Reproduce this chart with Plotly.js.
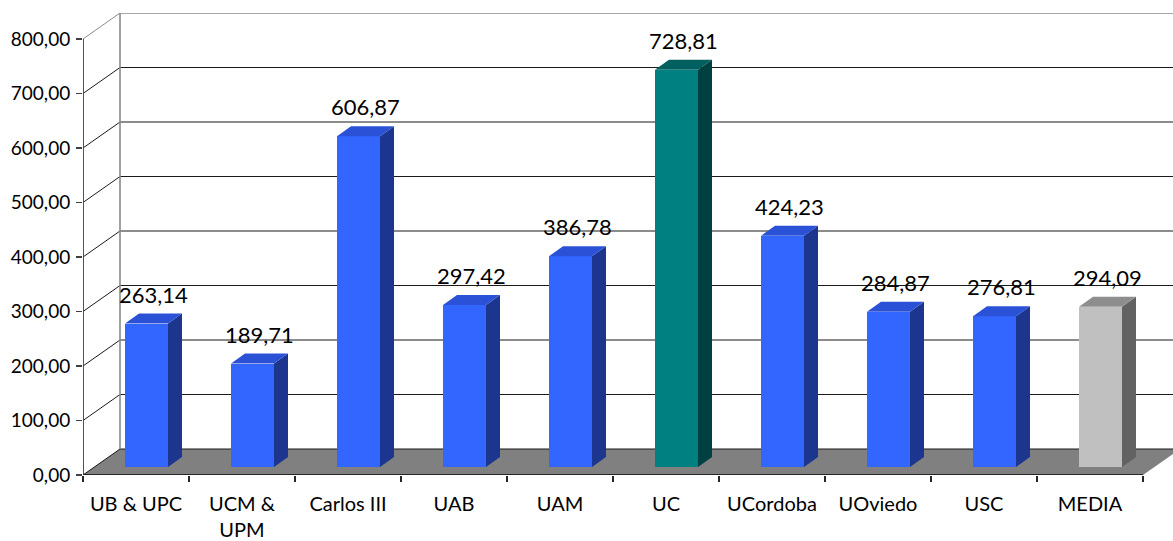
<!DOCTYPE html>
<html><head><meta charset="utf-8">
<script src="https://cdn.plot.ly/plotly-3.0.1.min.js"></script>
<style>html,body{margin:0;padding:0;background:#fff}#chart{width:1173px;height:541px}</style>
</head><body><div id="chart"></div>
<script>
// ---- data ----
const categories = ["UB & UPC","UCM &<br>UPM","Carlos III","UAB","UAM","UC","UCordoba","UOviedo","USC","MEDIA"];
const values = [263.14,189.71,606.87,297.42,386.78,728.81,424.23,284.87,276.81,294.09];
const yTickValues = [0,100,200,300,400,500,600,700,800];
const frontColors = ["#3366FF","#3366FF","#3366FF","#3366FF","#3366FF","#008080","#3366FF","#3366FF","#3366FF","#C0C0C0"];
const topColors   = ["#2B52D6","#2B52D6","#2B52D6","#2B52D6","#2B52D6","#005F5F","#2B52D6","#2B52D6","#2B52D6","#8E8E8E"];
const sideColors  = ["#1C3690","#1C3690","#1C3690","#1C3690","#1C3690","#004040","#1C3690","#1C3690","#1C3690","#626262"];

// ---- layout geometry ----
const W = 1173, H = 541;
const M = {l:83, r:0, t:13, b:66};
const plotW = W - M.l - M.r, plotH = H - M.t - M.b;
const catPx = 106;                 // pixels per category
const unitPx = 0.545;              // pixels per value unit
const xRange = [-0.5, -0.5 + plotW / catPx];
const yRange = [0, plotH / unitPx];
const px2x = p => p / catPx, px2y = p => p / unitPx;

const DX = px2x(37), DY = px2y(26);          // depth of the 3D box
const barShift = px2x(10.5), barW = px2x(43); // front face
const baseV = px2y(8);                        // bar base lifted into depth
const sdx = px2x(14), sdy = px2y(10);         // bar depth
const n = categories.length;
const xMaxCat = n - 0.5;

const traces = [];
// front faces
traces.push({
  type:'bar', x: values.map((v,i)=>i+barShift), y: values, base: values.map(()=>baseV),
  width: values.map(()=>barW), marker:{color: frontColors, line:{width:0}},
  hoverinfo:'skip', showlegend:false, xaxis:'x', yaxis:'y'
});
// side & top faces
values.forEach((v,i)=>{
  const xl = i + barShift - barW/2, xr = i + barShift + barW/2;
  const top = baseV + v;
  traces.push({type:'scatter', mode:'lines', fill:'toself', fillcolor: sideColors[i],
    line:{width:0, color: sideColors[i]}, hoverinfo:'skip', showlegend:false,
    x:[xr, xr, xr+sdx, xr+sdx, xr], y:[baseV, top, top+sdy, baseV+sdy, baseV]});
  traces.push({type:'scatter', mode:'lines', fill:'toself', fillcolor: topColors[i],
    line:{width:0, color: topColors[i]}, hoverinfo:'skip', showlegend:false,
    x:[xl, xr, xr+sdx, xl+sdx, xl], y:[top, top, top+sdy, top+sdy, top]});
});
// dummy trace for label axis
traces.push({type:'scatter', mode:'markers', x:[0], y:[0], xaxis:'x2', yaxis:'y',
  marker:{opacity:0}, hoverinfo:'skip', showlegend:false});

// shapes: floor, walls, gridlines
const shapes = [];
shapes.push({type:'path', xref:'x', yref:'y', layer:'below',
  path:`M ${-0.5} 0 L ${xMaxCat} 0 L ${xMaxCat+DX} ${DY} L ${-0.5+DX} ${DY} Z`,
  fillcolor:'#808080', line:{width:0}});
yTickValues.forEach(v=>{
  const isTop = v === yTickValues[yTickValues.length-1];
  const col = isTop ? '#8a8a8a' : '#1a1a1a';
  shapes.push({type:'line', xref:'x', yref:'y', layer:'below',
    x0:-0.5+DX, y0:v+DY, x1:xRange[1]+1, y1:v+DY, line:{color:col, width: isTop?1.6:1.2}});
  shapes.push({type:'line', xref:'x', yref:'y', layer:'below',
    x0:-0.5, y0:v, x1:-0.5+DX, y1:v+DY, line:{color: isTop ? '#8a8a8a' : '#1a1a1a', width:1}});
});
// back wall left edge
shapes.push({type:'line', xref:'x', yref:'y', layer:'below',
  x0:-0.5+DX, y0:DY, x1:-0.5+DX, y1:yTickValues[yTickValues.length-1]+DY, line:{color:'#8a8a8a', width:1.6}});
// y axis line
shapes.push({type:'line', xref:'x', yref:'y', layer:'above',
  x0:-0.5, y0:0, x1:-0.5, y1:yTickValues[yTickValues.length-1], line:{color:'#404040', width:1.8}});
// x axis line
shapes.push({type:'line', xref:'x', yref:'y', layer:'above',
  x0:-0.5, y0:0, x1:xMaxCat, y1:0, line:{color:'#262626', width:1.8}});

// value labels
const fmt = v => v.toFixed(2).replace('.', ',');
const annotations = values.map((v,i)=>({
  xref:'x', yref:'y', x: i + barShift + sdx/2, y: baseV + v + sdy,
  text: fmt(v), showarrow:false, yanchor:'bottom', yshift:4,
  font:{family:'Lato, sans-serif', size:22, color:'#000'}
}));

const boundaries = Array.from({length:n+1}, (_,k)=>k-0.5);
const layout = {
  width:W, height:H, margin:M, paper_bgcolor:'#fff', plot_bgcolor:'#fff',
  separators:',.', showlegend:false, bargap:0,
  font:{family:'Lato, sans-serif', color:'#000'},
  xaxis:{range:xRange, type:'linear', showgrid:false, zeroline:false, showline:false,
    tickmode:'array', tickvals:boundaries, ticktext:boundaries.map(()=>''), ticks:'outside',
    ticklen:6, tickcolor:'#262626', tickwidth:1.5, fixedrange:true},
  xaxis2:{range:xRange, type:'linear', overlaying:'x', side:'bottom', anchor:'y',
    showgrid:false, zeroline:false, showline:false, tickmode:'array',
    tickvals:categories.map((c,i)=>i), ticktext:categories, ticks:'', ticklabelstandoff:15,
    tickfont:{family:'Lato, sans-serif', size:20, color:'#000'}},
  yaxis:{range:yRange, showgrid:false, zeroline:false, showline:false, tickmode:'array',
    tickvals:yTickValues, ticktext:yTickValues.map(fmt), ticks:'outside', ticklen:6,
    tickcolor:'#404040', tickwidth:1.5, ticklabelstandoff:2,
    tickfont:{family:'Lato, sans-serif', size:19, color:'#000'}},
  shapes, annotations
};
Plotly.newPlot('chart', traces, layout, {displayModeBar:false, staticPlot:true});
</script></body></html>
